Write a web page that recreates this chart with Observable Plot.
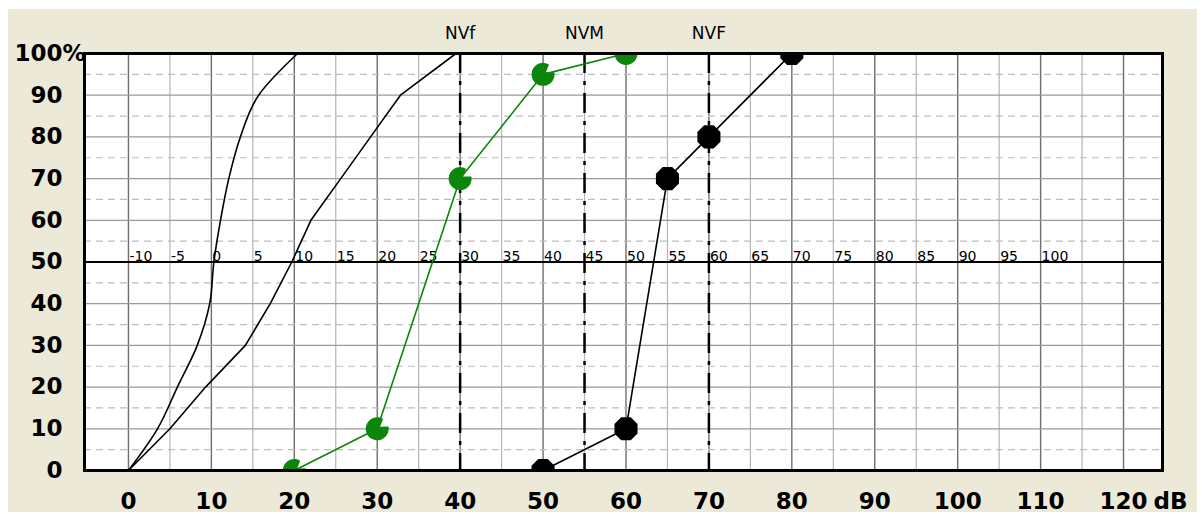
<!DOCTYPE html>
<html>
<head>
<meta charset="utf-8">
<script src="https://cdn.jsdelivr.net/npm/d3@7"></script>
<script src="https://cdn.jsdelivr.net/npm/@observablehq/plot@0.6"></script>
<style>
  html, body { margin: 0; padding: 0; background: white; }
</style>
</head>
<body>
<div id="chart"></div>
<script>
// ---- data ----
const pct = [0, 10, 20, 30, 40, 50, 60, 70, 80, 90, 100];
const curveAdB = [0, 3.5, 5.9, 8.3, 9.8, 10.3, 11.1, 12.1, 13.5, 15.7, 20.4];
const curveBdB = [0, 5.0, 9.3, 14.1, 17.1, 19.7, 22.0, 25.6, 29.2, 32.8, 39.5];
const greenDb = [20, 30, 40, 50, 60];
const greenPct = [0, 10, 70, 95, 100];
const blackDb = [50, 60, 65, 70, 80];
const blackPct = [0, 10, 70, 80, 100];
const refLabels = ["NVf", "NVM", "NVF"];
const refDb = [40, 55, 70];
const xTicks = [0, 10, 20, 30, 40, 50, 60, 70, 80, 90, 100, 110, 120];
const yTicks = [0, 10, 20, 30, 40, 50, 60, 70, 80, 90, 100];
const secondaryLabels = [-10, -5, 0, 5, 10, 15, 20, 25, 30, 35, 40, 45, 50, 55, 60, 65, 70, 75, 80, 85, 90, 95, 100];
const secondaryOffset = 10;

// ---- tables built from arrays ----
const curveA = pct.map((p, i) => ({x: curveAdB[i], y: p}));
const curveB = pct.map((p, i) => ({x: curveBdB[i], y: p}));
const green = greenDb.map((d, i) => ({x: d, y: greenPct[i]}));
const black = blackDb.map((d, i) => ({x: d, y: blackPct[i]}));
const refs = refDb.map((d, i) => ({x: d, label: refLabels[i]}));
const secondary = secondaryLabels.map(v => ({x: v + secondaryOffset, label: String(v)}));

const minorX = d3.range(5, 125, 10);
const majorX = d3.range(0, 125, 10);
const dashedY = d3.range(5, 100, 10);
const solidY = yTicks.filter(v => v !== 0 && v !== 50 && v !== 100);

// custom marker symbols
const octagon = {
  draw(ctx, size) {
    const r = Math.sqrt(size / Math.PI) * 1.04;
    for (let i = 0; i < 8; i++) {
      const a = Math.PI / 8 + i * Math.PI / 4;
      const px = r * Math.cos(a), py = r * Math.sin(a);
      if (i === 0) ctx.moveTo(px, py); else ctx.lineTo(px, py);
    }
    ctx.closePath();
  }
};
const pacman = {
  draw(ctx, size) {
    const r = Math.sqrt(size / Math.PI);
    const c = -35 * Math.PI / 180, h = 24 * Math.PI / 180;
    ctx.moveTo(r * 0.3 * Math.cos(c), r * 0.3 * Math.sin(c));
    ctx.arc(0, 0, r, c + h, c - h + 2 * Math.PI);
    ctx.closePath();
  }
};

const font = "DejaVu Sans, Liberation Sans, sans-serif";
const green_c = "#0b860b";

const chart = Plot.plot({
  width: 1202,
  height: 514,
  marginLeft: 84,
  marginRight: 40,
  marginTop: 53,
  marginBottom: 44,
  x: {domain: [-5.3, 124.7]},
  y: {domain: [0, 100]},
  style: {
    fontFamily: font,
    color: "black",
    background: "linear-gradient(#ECE9D8,#ECE9D8) 8px 9px / 1189px 503px no-repeat, white"
  },
  marks: [
    Plot.frame({fill: "white", stroke: "none"}),
    Plot.gridX(minorX, {stroke: "#b4b4b4", strokeOpacity: 1, strokeWidth: 1.2}),
    Plot.gridX(majorX, {stroke: "#6e6e6e", strokeOpacity: 1, strokeWidth: 1.4}),
    Plot.gridY(dashedY, {stroke: "#bdbdbd", strokeOpacity: 1, strokeWidth: 1.2, strokeDasharray: "7,5"}),
    Plot.gridY(solidY, {stroke: "#9a9a9a", strokeOpacity: 1, strokeWidth: 1.2}),
    Plot.ruleY([50], {stroke: "black", strokeWidth: 2}),
    Plot.ruleX(refs, {x: "x", stroke: "black", strokeWidth: 2.5, strokeDasharray: "20,8,4,8"}),
    Plot.text(secondary, {x: "x", y: () => 50, text: "label", textAnchor: "start", lineAnchor: "bottom", dx: 1, dy: -1, fontSize: 14}),
    Plot.line(curveA, {x: "x", y: "y", stroke: "black", strokeWidth: 1.6, curve: "monotone-y"}),
    Plot.line(curveB, {x: "x", y: "y", stroke: "black", strokeWidth: 1.6}),
    Plot.line(green, {x: "x", y: "y", stroke: green_c, strokeWidth: 1.6}),
    Plot.line(black, {x: "x", y: "y", stroke: "black", strokeWidth: 1.6}),
    Plot.dot(green, {x: "x", y: "y", r: 11.5, symbol: pacman, fill: green_c, stroke: "none", clip: true}),
    Plot.dot(black, {x: "x", y: "y", r: 12, symbol: octagon, fill: "black", stroke: "none", clip: true}),
    Plot.frame({stroke: "black", strokeWidth: 3}),
    Plot.text(refs, {x: "x", text: "label", frameAnchor: "top", lineAnchor: "bottom", dy: -15, fontSize: 17}),
    Plot.axisY({ticks: yTicks, tickSize: 0, tickPadding: 22, fontSize: 23, fontWeight: "bold", label: null}),
    Plot.axisX({ticks: xTicks, tickSize: 0, tickPadding: 22, fontSize: 23, fontWeight: "bold", label: null}),
    Plot.text(["%"], {y: () => 100, frameAnchor: "left", text: d => d, textAnchor: "start", dx: -22, fontSize: 23, fontWeight: "bold"}),
    Plot.text(["dB"], {x: () => 120, frameAnchor: "bottom", text: d => d, textAnchor: "start", lineAnchor: "top", dx: 30, dy: 22, fontSize: 23, fontWeight: "bold"})
  ]
});
document.getElementById("chart").append(chart);
</script>
</body>
</html>
